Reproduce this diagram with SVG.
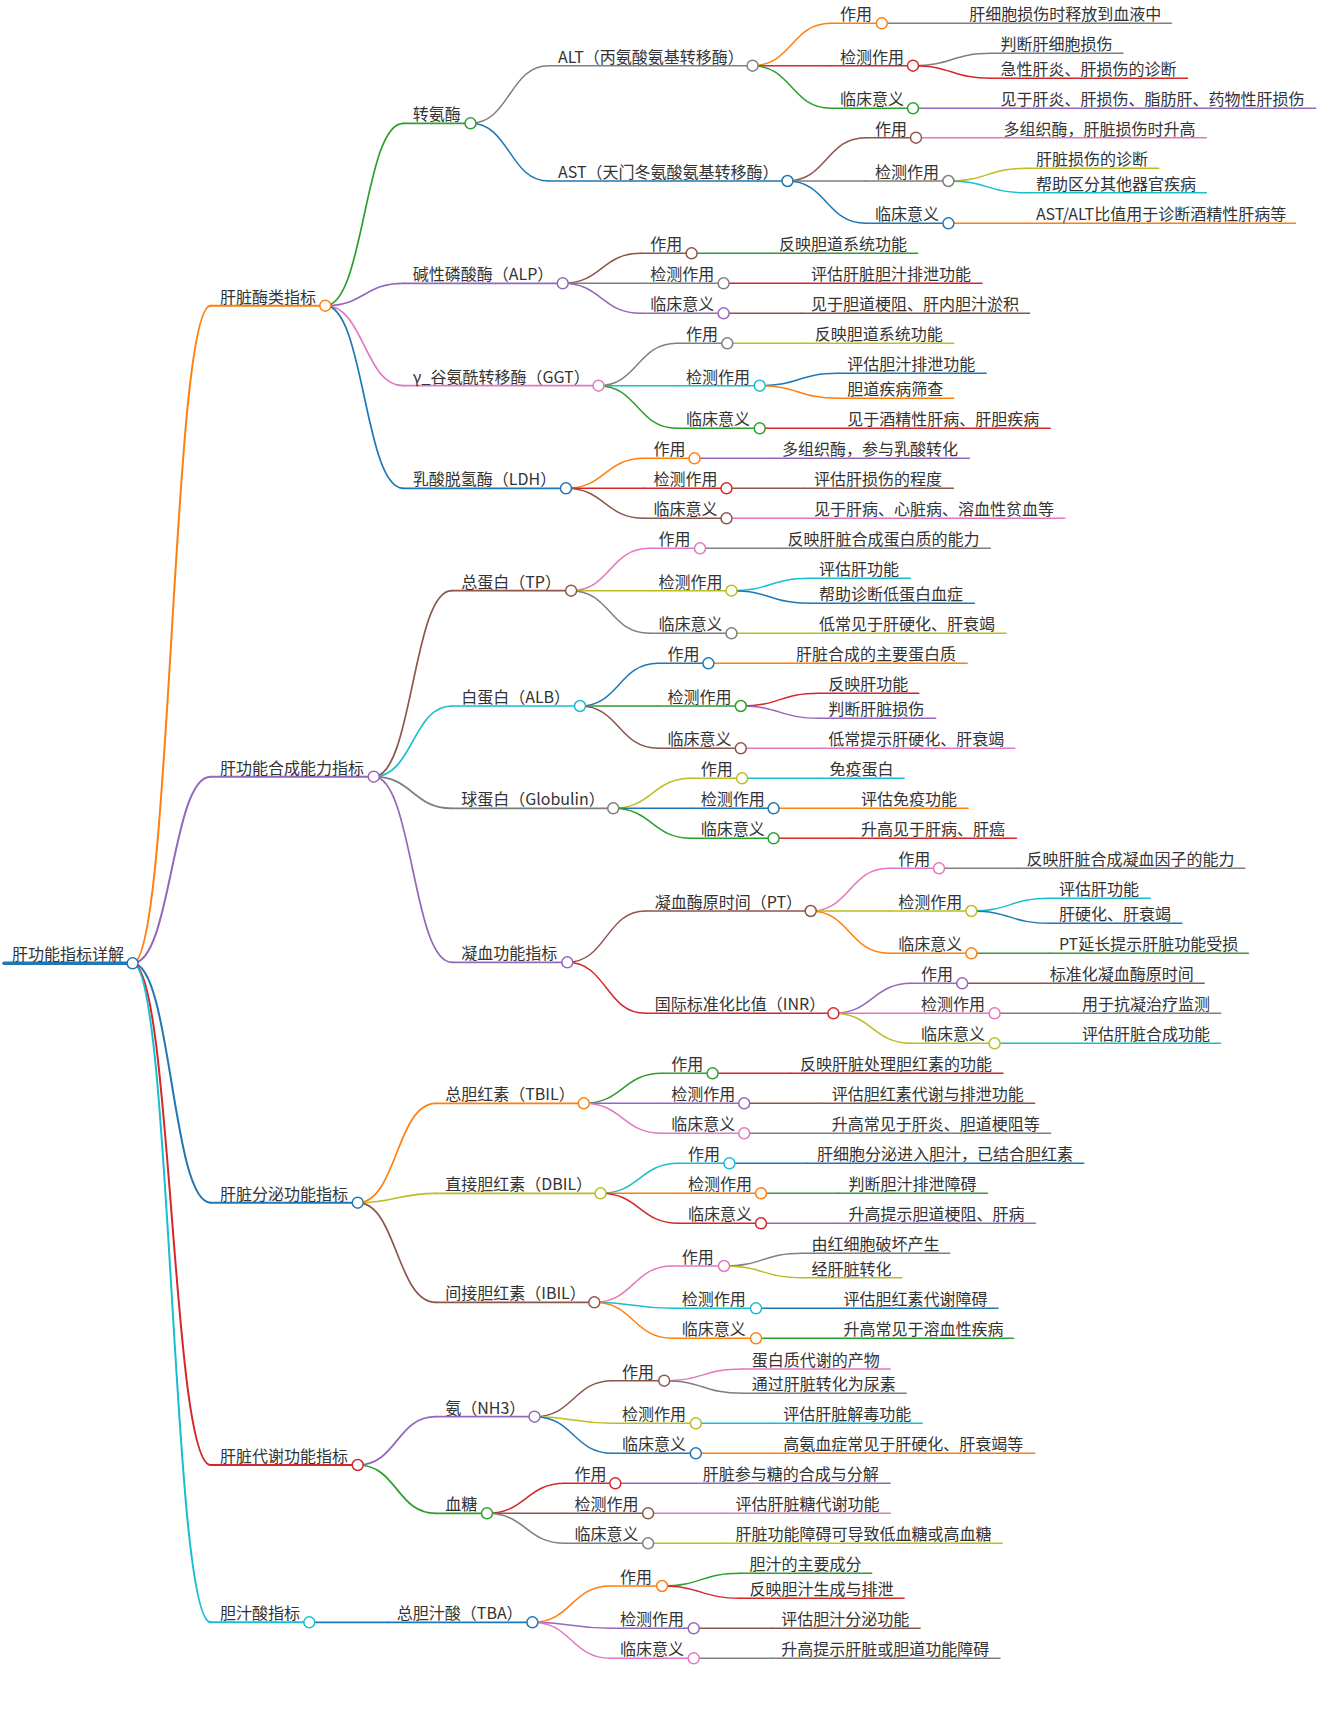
<svg xmlns="http://www.w3.org/2000/svg" width="1321" height="1713" viewBox="0 0 1321 1713">
<style>
path{fill:none;stroke-linecap:round}
circle{fill:#fff;stroke-width:1.5}
text{font-family:"Noto Sans CJK SC","Noto Sans",sans-serif;font-size:16px;fill:#333}
.w0{stroke-width:3.5}.w1{stroke-width:2}.w2{stroke-width:1.7}.w3{stroke-width:1.5}
.bl{stroke:#1f77b4}.or{stroke:#ff7f0e}.gr{stroke:#2ca02c}.rd{stroke:#d62728}.pu{stroke:#9467bd}
.br{stroke:#8c564b}.pk{stroke:#e377c2}.gy{stroke:#7f7f7f}.ol{stroke:#bcbd22}.cy{stroke:#17becf}
</style>
<rect width="1321" height="1713" fill="#fff"/>
<g id="connectors">
<path class="or w1" d="M132.6 963.3C171.6 963.3 171.6 305.7 210.6 305.7"/>
<path class="pu w1" d="M132.6 963.3C171.6 963.3 171.6 776.7 210.6 776.7"/>
<path class="bl w1" d="M132.6 963.3C171.6 963.3 171.6 1202.7 210.6 1202.7"/>
<path class="rd w1" d="M132.6 963.3C171.6 963.3 171.6 1465 210.6 1465"/>
<path class="cy w1" d="M132.6 963.3C171.6 963.3 171.6 1622.3 210.6 1622.3"/>
<path class="gr w2" d="M325.3 305.7C364.3 305.7 364.3 123.3 403.3 123.3"/>
<path class="pu w2" d="M325.3 305.7C364.3 305.7 364.3 283.3 403.3 283.3"/>
<path class="pk w2" d="M325.3 305.7C364.3 305.7 364.3 385.7 403.3 385.7"/>
<path class="bl w2" d="M325.3 305.7C364.3 305.7 364.3 488.3 403.3 488.3"/>
<path class="gy w3" d="M470.5 123.3C509.5 123.3 509.5 65.7 548.5 65.7"/>
<path class="bl w3" d="M470.5 123.3C509.5 123.3 509.5 181 548.5 181"/>
<path class="or w3" d="M752.6 65.7C791.6 65.7 791.6 23.3 830.6 23.3"/>
<path class="rd w3" d="M752.6 65.7C791.6 65.7 791.6 65.7 830.6 65.7"/>
<path class="gr w3" d="M752.6 65.7C791.6 65.7 791.6 108.3 830.6 108.3"/>
<path class="gy w3" d="M881.8 23.3H959.8"/>
<path class="gy w3" d="M913 65.7C952 65.7 952 53.3 991 53.3"/>
<path class="rd w3" d="M913 65.7C952 65.7 952 78.3 991 78.3"/>
<path class="pu w3" d="M913 108.3H991"/>
<path class="br w3" d="M787.5 181C826.5 181 826.5 137.7 865.5 137.7"/>
<path class="gy w3" d="M787.5 181H865.5"/>
<path class="bl w3" d="M787.5 181C826.5 181 826.5 223.3 865.5 223.3"/>
<path class="pk w3" d="M916 137.7H994"/>
<path class="ol w3" d="M948.4 181C987.4 181 987.4 168.3 1026.4 168.3"/>
<path class="cy w3" d="M948.4 181C987.4 181 987.4 192.7 1026.4 192.7"/>
<path class="or w3" d="M948.4 223.3H1026.4"/>
<path class="br w3" d="M562.7 283.3C601.7 283.3 601.7 253.3 640.7 253.3"/>
<path class="gy w3" d="M562.7 283.3H640.7"/>
<path class="pu w3" d="M562.7 283.3C601.7 283.3 601.7 313.3 640.7 313.3"/>
<path class="gr w3" d="M691.6 253.3H769.6"/>
<path class="rd w3" d="M723.6 283.3H801.6"/>
<path class="br w3" d="M723.6 313.3H801.6"/>
<path class="gy w3" d="M598.5 385.7C637.5 385.7 637.5 343.3 676.5 343.3"/>
<path class="cy w3" d="M598.5 385.7H676.5"/>
<path class="gr w3" d="M598.5 385.7C637.5 385.7 637.5 428.3 676.5 428.3"/>
<path class="ol w3" d="M727.3 343.3H805.3"/>
<path class="bl w3" d="M759.7 385.7C798.7 385.7 798.7 373.3 837.7 373.3"/>
<path class="or w3" d="M759.7 385.7C798.7 385.7 798.7 398.3 837.7 398.3"/>
<path class="rd w3" d="M759.7 428.3H837.7"/>
<path class="or w3" d="M566 488.3C605 488.3 605 458.3 644 458.3"/>
<path class="rd w3" d="M566 488.3H644"/>
<path class="br w3" d="M566 488.3C605 488.3 605 518.3 644 518.3"/>
<path class="pu w3" d="M694.5 458.3H772.5"/>
<path class="br w3" d="M726.5 488.3H804.5"/>
<path class="pk w3" d="M726.5 518.3H804.5"/>
<path class="br w2" d="M373.7 776.7C412.7 776.7 412.7 590.7 451.7 590.7"/>
<path class="cy w2" d="M373.7 776.7C412.7 776.7 412.7 706 451.7 706"/>
<path class="gy w2" d="M373.7 776.7C412.7 776.7 412.7 808.3 451.7 808.3"/>
<path class="pu w2" d="M373.7 776.7C412.7 776.7 412.7 962.3 451.7 962.3"/>
<path class="pk w3" d="M571.1 590.7C610.1 590.7 610.1 548.3 649.1 548.3"/>
<path class="ol w3" d="M571.1 590.7H649.1"/>
<path class="gy w3" d="M571.1 590.7C610.1 590.7 610.1 633.3 649.1 633.3"/>
<path class="gy w3" d="M700 548.3H778"/>
<path class="cy w3" d="M731.5 590.7C770.5 590.7 770.5 578.3 809.5 578.3"/>
<path class="bl w3" d="M731.5 590.7C770.5 590.7 770.5 603.3 809.5 603.3"/>
<path class="ol w3" d="M731.5 633.3H809.5"/>
<path class="bl w3" d="M580 706C619 706 619 663.3 658 663.3"/>
<path class="gr w3" d="M580 706H658"/>
<path class="br w3" d="M580 706C619 706 619 748.3 658 748.3"/>
<path class="or w3" d="M708.4 663.3H786.4"/>
<path class="rd w3" d="M740.8 706C779.8 706 779.8 693.3 818.8 693.3"/>
<path class="pu w3" d="M740.8 706C779.8 706 779.8 718.3 818.8 718.3"/>
<path class="pk w3" d="M740.8 748.3H818.8"/>
<path class="ol w3" d="M613.2 808.3C652.2 808.3 652.2 778.3 691.2 778.3"/>
<path class="bl w3" d="M613.2 808.3H691.2"/>
<path class="gr w3" d="M613.2 808.3C652.2 808.3 652.2 838.3 691.2 838.3"/>
<path class="cy w3" d="M742.1 778.3H820.1"/>
<path class="or w3" d="M773.6 808.3H851.6"/>
<path class="rd w3" d="M773.6 838.3H851.6"/>
<path class="br w3" d="M567.3 962.3C606.3 962.3 606.3 911 645.3 911"/>
<path class="rd w3" d="M567.3 962.3C606.3 962.3 606.3 1013.3 645.3 1013.3"/>
<path class="pk w3" d="M810.7 911C849.7 911 849.7 868.3 888.7 868.3"/>
<path class="ol w3" d="M810.7 911H888.7"/>
<path class="or w3" d="M810.7 911C849.7 911 849.7 953.3 888.7 953.3"/>
<path class="gy w3" d="M939 868.3H1017"/>
<path class="cy w3" d="M971.4 911C1010.4 911 1010.4 898.3 1049.4 898.3"/>
<path class="bl w3" d="M971.4 911C1010.4 911 1010.4 923.3 1049.4 923.3"/>
<path class="gr w3" d="M971.4 953.3H1049.4"/>
<path class="pu w3" d="M833.4 1013.3C872.4 1013.3 872.4 983.3 911.4 983.3"/>
<path class="pk w3" d="M833.4 1013.3H911.4"/>
<path class="ol w3" d="M833.4 1013.3C872.4 1013.3 872.4 1043.3 911.4 1043.3"/>
<path class="br w3" d="M962.2 983.3H1040.2"/>
<path class="gy w3" d="M994.6 1013.3H1072.6"/>
<path class="cy w3" d="M994.6 1043.3H1072.6"/>
<path class="or w2" d="M357.7 1202.7C396.7 1202.7 396.7 1103.3 435.7 1103.3"/>
<path class="ol w2" d="M357.7 1202.7C396.7 1202.7 396.7 1193.3 435.7 1193.3"/>
<path class="br w2" d="M357.7 1202.7C396.7 1202.7 396.7 1302.3 435.7 1302.3"/>
<path class="gr w3" d="M583.8 1103.3C622.8 1103.3 622.8 1073.3 661.8 1073.3"/>
<path class="pu w3" d="M583.8 1103.3H661.8"/>
<path class="pk w3" d="M583.8 1103.3C622.8 1103.3 622.8 1133.3 661.8 1133.3"/>
<path class="rd w3" d="M712.6 1073.3H790.6"/>
<path class="br w3" d="M744.2 1103.3H822.2"/>
<path class="gy w3" d="M744.2 1133.3H822.2"/>
<path class="cy w3" d="M600.6 1193.3C639.6 1193.3 639.6 1163.3 678.6 1163.3"/>
<path class="or w3" d="M600.6 1193.3H678.6"/>
<path class="rd w3" d="M600.6 1193.3C639.6 1193.3 639.6 1223.3 678.6 1223.3"/>
<path class="bl w3" d="M729.4 1163.3H807.4"/>
<path class="gr w3" d="M761 1193.3H839"/>
<path class="pu w3" d="M761 1223.3H839"/>
<path class="pk w3" d="M594.3 1302.3C633.3 1302.3 633.3 1266 672.3 1266"/>
<path class="cy w3" d="M594.3 1302.3C633.3 1302.3 633.3 1308.3 672.3 1308.3"/>
<path class="or w3" d="M594.3 1302.3C633.3 1302.3 633.3 1338.3 672.3 1338.3"/>
<path class="gy w3" d="M724 1266C763 1266 763 1253.3 802 1253.3"/>
<path class="ol w3" d="M724 1266C763 1266 763 1277.7 802 1277.7"/>
<path class="bl w3" d="M756 1308.3H834"/>
<path class="gr w3" d="M756 1338.3H834"/>
<path class="pu w2" d="M357.7 1465C396.7 1465 396.7 1416.7 435.7 1416.7"/>
<path class="gr w2" d="M357.7 1465C396.7 1465 396.7 1513.3 435.7 1513.3"/>
<path class="br w3" d="M534.5 1416.7C573.5 1416.7 573.5 1380.7 612.5 1380.7"/>
<path class="ol w3" d="M534.5 1416.7C573.5 1416.7 573.5 1423.3 612.5 1423.3"/>
<path class="bl w3" d="M534.5 1416.7C573.5 1416.7 573.5 1453.3 612.5 1453.3"/>
<path class="pk w3" d="M664.2 1380.7C703.2 1380.7 703.2 1369 742.2 1369"/>
<path class="gy w3" d="M664.2 1380.7C703.2 1380.7 703.2 1393.3 742.2 1393.3"/>
<path class="cy w3" d="M695.8 1423.3H773.8"/>
<path class="or w3" d="M695.8 1453.3H773.8"/>
<path class="rd w3" d="M487 1513.3C526 1513.3 526 1483.3 565 1483.3"/>
<path class="br w3" d="M487 1513.3H565"/>
<path class="gy w3" d="M487 1513.3C526 1513.3 526 1543.3 565 1543.3"/>
<path class="pu w3" d="M615.3 1483.3H693.3"/>
<path class="pk w3" d="M648.1 1513.3H726.1"/>
<path class="ol w3" d="M648.1 1543.3H726.1"/>
<path class="bl w2" d="M309.3 1622.3H387.3"/>
<path class="or w3" d="M532.4 1622.3C571.4 1622.3 571.4 1586 610.4 1586"/>
<path class="pu w3" d="M532.4 1622.3C571.4 1622.3 571.4 1628.3 610.4 1628.3"/>
<path class="pk w3" d="M532.4 1622.3C571.4 1622.3 571.4 1658.3 610.4 1658.3"/>
<path class="gr w3" d="M662.1 1586C701.1 1586 701.1 1573.3 740.1 1573.3"/>
<path class="rd w3" d="M662.1 1586C701.1 1586 701.1 1598.3 740.1 1598.3"/>
<path class="br w3" d="M693.7 1628.3H771.7"/>
<path class="gy w3" d="M693.7 1658.3H771.7"/>
</g>
<g id="n-root"><path class="bl w0" d="M4 963.3H132.6"/><circle class="bl" cx="132.6" cy="963.3" r="5.5"/><text x="12" y="960.3">肝功能指标详解</text></g>
<g id="n-A"><path class="or w1" d="M210.6 305.7H325.3"/><circle class="or" cx="325.3" cy="305.7" r="5.5"/><text x="220" y="302.7">肝脏酶类指标</text></g>
<g id="n-A1"><path class="gr w2" d="M403.3 123.3H470.5"/><circle class="gr" cx="470.5" cy="123.3" r="5.5"/><text x="412.8" y="120.3">转氨酶</text></g>
<g id="n-A1a"><path class="gy w3" d="M548.5 65.7H752.6"/><circle class="gy" cx="752.6" cy="65.7" r="5.5"/><text x="558" y="62.7">ALT（丙氨酸氨基转移酶）</text></g>
<g id="n-A1a1"><path class="or w3" d="M830.6 23.3H881.8"/><circle class="or" cx="881.8" cy="23.3" r="5.5"/><text x="840.1" y="20.3">作用</text></g>
<g id="n-A1a1a"><path class="gy w3" d="M959.8 23.3H1171.4"/><text x="969.3" y="20.3">肝细胞损伤时释放到血液中</text></g>
<g id="n-A1a2"><path class="rd w3" d="M830.6 65.7H913"/><circle class="rd" cx="913" cy="65.7" r="5.5"/><text x="840.1" y="62.7">检测作用</text></g>
<g id="n-A1a2a"><path class="gy w3" d="M991 53.3H1123"/><text x="1000.5" y="50.3">判断肝细胞损伤</text></g>
<g id="n-A1a2b"><path class="rd w3" d="M991 78.3H1187.4"/><text x="1000.5" y="75.3">急性肝炎、肝损伤的诊断</text></g>
<g id="n-A1a3"><path class="gr w3" d="M830.6 108.3H913"/><circle class="gr" cx="913" cy="108.3" r="5.5"/><text x="840.1" y="105.3">临床意义</text></g>
<g id="n-A1a3a"><path class="pu w3" d="M991 108.3H1315.7"/><text x="1000.5" y="105.3">见于肝炎、肝损伤、脂肪肝、药物性肝损伤</text></g>
<g id="n-A1b"><path class="bl w3" d="M548.5 181H787.5"/><circle class="bl" cx="787.5" cy="181" r="5.5"/><text x="558" y="178">AST（天门冬氨酸氨基转移酶）</text></g>
<g id="n-A1b1"><path class="br w3" d="M865.5 137.7H916"/><circle class="br" cx="916" cy="137.7" r="5.5"/><text x="875" y="134.7">作用</text></g>
<g id="n-A1b1a"><path class="pk w3" d="M994 137.7H1206.3"/><text x="1003.5" y="134.7">多组织酶，肝脏损伤时升高</text></g>
<g id="n-A1b2"><path class="gy w3" d="M865.5 181H948.4"/><circle class="gy" cx="948.4" cy="181" r="5.5"/><text x="875" y="178">检测作用</text></g>
<g id="n-A1b2a"><path class="ol w3" d="M1026.4 168.3H1158.7"/><text x="1035.9" y="165.3">肝脏损伤的诊断</text></g>
<g id="n-A1b2b"><path class="cy w3" d="M1026.4 192.7H1206.3"/><text x="1035.9" y="189.7">帮助区分其他器官疾病</text></g>
<g id="n-A1b3"><path class="bl w3" d="M865.5 223.3H948.4"/><circle class="bl" cx="948.4" cy="223.3" r="5.5"/><text x="875" y="220.3">临床意义</text></g>
<g id="n-A1b3a"><path class="or w3" d="M1026.4 223.3H1295.5"/><text x="1035.9" y="220.3">AST/ALT比值用于诊断酒精性肝病等</text></g>
<g id="n-A2"><path class="pu w2" d="M403.3 283.3H562.7"/><circle class="pu" cx="562.7" cy="283.3" r="5.5"/><text x="412.8" y="280.3">碱性磷酸酶（ALP）</text></g>
<g id="n-A21"><path class="br w3" d="M640.7 253.3H691.6"/><circle class="br" cx="691.6" cy="253.3" r="5.5"/><text x="650.2" y="250.3">作用</text></g>
<g id="n-A21a"><path class="gr w3" d="M769.6 253.3H917.6"/><text x="779.1" y="250.3">反映胆道系统功能</text></g>
<g id="n-A22"><path class="gy w3" d="M640.7 283.3H723.6"/><circle class="gy" cx="723.6" cy="283.3" r="5.5"/><text x="650.2" y="280.3">检测作用</text></g>
<g id="n-A22a"><path class="rd w3" d="M801.6 283.3H982"/><text x="811.1" y="280.3">评估肝脏胆汁排泄功能</text></g>
<g id="n-A23"><path class="pu w3" d="M640.7 313.3H723.6"/><circle class="pu" cx="723.6" cy="313.3" r="5.5"/><text x="650.2" y="310.3">临床意义</text></g>
<g id="n-A23a"><path class="br w3" d="M801.6 313.3H1029.5"/><text x="811.1" y="310.3">见于胆道梗阻、肝内胆汁淤积</text></g>
<g id="n-A3"><path class="pk w2" d="M403.3 385.7H598.5"/><circle class="pk" cx="598.5" cy="385.7" r="5.5"/><text x="412.8" y="382.7">γ_谷氨酰转移酶（GGT）</text></g>
<g id="n-A31"><path class="gy w3" d="M676.5 343.3H727.3"/><circle class="gy" cx="727.3" cy="343.3" r="5.5"/><text x="686" y="340.3">作用</text></g>
<g id="n-A31a"><path class="ol w3" d="M805.3 343.3H953.8"/><text x="814.8" y="340.3">反映胆道系统功能</text></g>
<g id="n-A32"><path class="cy w3" d="M676.5 385.7H759.7"/><circle class="cy" cx="759.7" cy="385.7" r="5.5"/><text x="686" y="382.7">检测作用</text></g>
<g id="n-A32a"><path class="bl w3" d="M837.7 373.3H986.2"/><text x="847.2" y="370.3">评估胆汁排泄功能</text></g>
<g id="n-A32b"><path class="or w3" d="M837.7 398.3H953.8"/><text x="847.2" y="395.3">胆道疾病筛查</text></g>
<g id="n-A33"><path class="gr w3" d="M676.5 428.3H759.7"/><circle class="gr" cx="759.7" cy="428.3" r="5.5"/><text x="686" y="425.3">临床意义</text></g>
<g id="n-A33a"><path class="rd w3" d="M837.7 428.3H1050.2"/><text x="847.2" y="425.3">见于酒精性肝病、肝胆疾病</text></g>
<g id="n-A4"><path class="bl w2" d="M403.3 488.3H566"/><circle class="bl" cx="566" cy="488.3" r="5.5"/><text x="412.8" y="485.3">乳酸脱氢酶（LDH）</text></g>
<g id="n-A41"><path class="or w3" d="M644 458.3H694.5"/><circle class="or" cx="694.5" cy="458.3" r="5.5"/><text x="653.5" y="455.3">作用</text></g>
<g id="n-A41a"><path class="pu w3" d="M772.5 458.3H969.3"/><text x="782" y="455.3">多组织酶，参与乳酸转化</text></g>
<g id="n-A42"><path class="rd w3" d="M644 488.3H726.5"/><circle class="rd" cx="726.5" cy="488.3" r="5.5"/><text x="653.5" y="485.3">检测作用</text></g>
<g id="n-A42a"><path class="br w3" d="M804.5 488.3H953.3"/><text x="814" y="485.3">评估肝损伤的程度</text></g>
<g id="n-A43"><path class="br w3" d="M644 518.3H726.5"/><circle class="br" cx="726.5" cy="518.3" r="5.5"/><text x="653.5" y="515.3">临床意义</text></g>
<g id="n-A43a"><path class="pk w3" d="M804.5 518.3H1064.9"/><text x="814" y="515.3">见于肝病、心脏病、溶血性贫血等</text></g>
<g id="n-B"><path class="pu w1" d="M210.6 776.7H373.7"/><circle class="pu" cx="373.7" cy="776.7" r="5.5"/><text x="220" y="773.7">肝功能合成能力指标</text></g>
<g id="n-B1"><path class="br w2" d="M451.7 590.7H571.1"/><circle class="br" cx="571.1" cy="590.7" r="5.5"/><text x="461.2" y="587.7">总蛋白（TP）</text></g>
<g id="n-B11"><path class="pk w3" d="M649.1 548.3H700"/><circle class="pk" cx="700" cy="548.3" r="5.5"/><text x="658.6" y="545.3">作用</text></g>
<g id="n-B11a"><path class="gy w3" d="M778 548.3H990.4"/><text x="787.5" y="545.3">反映肝脏合成蛋白质的能力</text></g>
<g id="n-B12"><path class="ol w3" d="M649.1 590.7H731.5"/><circle class="ol" cx="731.5" cy="590.7" r="5.5"/><text x="658.6" y="587.7">检测作用</text></g>
<g id="n-B12a"><path class="cy w3" d="M809.5 578.3H910.4"/><text x="819" y="575.3">评估肝功能</text></g>
<g id="n-B12b"><path class="bl w3" d="M809.5 603.3H974.4"/><text x="819" y="600.3">帮助诊断低蛋白血症</text></g>
<g id="n-B13"><path class="gy w3" d="M649.1 633.3H731.5"/><circle class="gy" cx="731.5" cy="633.3" r="5.5"/><text x="658.6" y="630.3">临床意义</text></g>
<g id="n-B13a"><path class="ol w3" d="M809.5 633.3H1006"/><text x="819" y="630.3">低常见于肝硬化、肝衰竭</text></g>
<g id="n-B2"><path class="cy w2" d="M451.7 706H580"/><circle class="cy" cx="580" cy="706" r="5.5"/><text x="461.2" y="703">白蛋白（ALB）</text></g>
<g id="n-B21"><path class="bl w3" d="M658 663.3H708.4"/><circle class="bl" cx="708.4" cy="663.3" r="5.5"/><text x="667.5" y="660.3">作用</text></g>
<g id="n-B21a"><path class="or w3" d="M786.4 663.3H967.2"/><text x="795.9" y="660.3">肝脏合成的主要蛋白质</text></g>
<g id="n-B22"><path class="gr w3" d="M658 706H740.8"/><circle class="gr" cx="740.8" cy="706" r="5.5"/><text x="667.5" y="703">检测作用</text></g>
<g id="n-B22a"><path class="rd w3" d="M818.8 693.3H918.8"/><text x="828.3" y="690.3">反映肝功能</text></g>
<g id="n-B22b"><path class="pu w3" d="M818.8 718.3H935.7"/><text x="828.3" y="715.3">判断肝脏损伤</text></g>
<g id="n-B23"><path class="br w3" d="M658 748.3H740.8"/><circle class="br" cx="740.8" cy="748.3" r="5.5"/><text x="667.5" y="745.3">临床意义</text></g>
<g id="n-B23a"><path class="pk w3" d="M818.8 748.3H1014.8"/><text x="828.3" y="745.3">低常提示肝硬化、肝衰竭</text></g>
<g id="n-B3"><path class="gy w2" d="M451.7 808.3H613.2"/><circle class="gy" cx="613.2" cy="808.3" r="5.5"/><text x="461.2" y="805.3">球蛋白（Globulin）</text></g>
<g id="n-B31"><path class="ol w3" d="M691.2 778.3H742.1"/><circle class="ol" cx="742.1" cy="778.3" r="5.5"/><text x="700.7" y="775.3">作用</text></g>
<g id="n-B31a"><path class="cy w3" d="M820.1 778.3H904.1"/><text x="829.6" y="775.3">免疫蛋白</text></g>
<g id="n-B32"><path class="bl w3" d="M691.2 808.3H773.6"/><circle class="bl" cx="773.6" cy="808.3" r="5.5"/><text x="700.7" y="805.3">检测作用</text></g>
<g id="n-B32a"><path class="or w3" d="M851.6 808.3H968.1"/><text x="861.1" y="805.3">评估免疫功能</text></g>
<g id="n-B33"><path class="gr w3" d="M691.2 838.3H773.6"/><circle class="gr" cx="773.6" cy="838.3" r="5.5"/><text x="700.7" y="835.3">临床意义</text></g>
<g id="n-B33a"><path class="rd w3" d="M851.6 838.3H1016.5"/><text x="861.1" y="835.3">升高见于肝病、肝癌</text></g>
<g id="n-B4"><path class="pu w2" d="M451.7 962.3H567.3"/><circle class="pu" cx="567.3" cy="962.3" r="5.5"/><text x="461.2" y="959.3">凝血功能指标</text></g>
<g id="n-B4a"><path class="br w3" d="M645.3 911H810.7"/><circle class="br" cx="810.7" cy="911" r="5.5"/><text x="654.8" y="908">凝血酶原时间（PT）</text></g>
<g id="n-B4a1"><path class="pk w3" d="M888.7 868.3H939"/><circle class="pk" cx="939" cy="868.3" r="5.5"/><text x="898.2" y="865.3">作用</text></g>
<g id="n-B4a1a"><path class="gy w3" d="M1017 868.3H1245"/><text x="1026.5" y="865.3">反映肝脏合成凝血因子的能力</text></g>
<g id="n-B4a2"><path class="ol w3" d="M888.7 911H971.4"/><circle class="ol" cx="971.4" cy="911" r="5.5"/><text x="898.2" y="908">检测作用</text></g>
<g id="n-B4a2a"><path class="cy w3" d="M1049.4 898.3H1150.3"/><text x="1058.9" y="895.3">评估肝功能</text></g>
<g id="n-B4a2b"><path class="bl w3" d="M1049.4 923.3H1181.9"/><text x="1058.9" y="920.3">肝硬化、肝衰竭</text></g>
<g id="n-B4a3"><path class="or w3" d="M888.7 953.3H971.4"/><circle class="or" cx="971.4" cy="953.3" r="5.5"/><text x="898.2" y="950.3">临床意义</text></g>
<g id="n-B4a3a"><path class="gr w3" d="M1049.4 953.3H1248.4"/><text x="1058.9" y="950.3">PT延长提示肝脏功能受损</text></g>
<g id="n-B4b"><path class="rd w3" d="M645.3 1013.3H833.4"/><circle class="rd" cx="833.4" cy="1013.3" r="5.5"/><text x="654.8" y="1010.3">国际标准化比值（INR）</text></g>
<g id="n-B4b1"><path class="pu w3" d="M911.4 983.3H962.2"/><circle class="pu" cx="962.2" cy="983.3" r="5.5"/><text x="920.9" y="980.3">作用</text></g>
<g id="n-B4b1a"><path class="br w3" d="M1040.2 983.3H1204.2"/><text x="1049.7" y="980.3">标准化凝血酶原时间</text></g>
<g id="n-B4b2"><path class="pk w3" d="M911.4 1013.3H994.6"/><circle class="pk" cx="994.6" cy="1013.3" r="5.5"/><text x="920.9" y="1010.3">检测作用</text></g>
<g id="n-B4b2a"><path class="gy w3" d="M1072.6 1013.3H1220.6"/><text x="1082.1" y="1010.3">用于抗凝治疗监测</text></g>
<g id="n-B4b3"><path class="ol w3" d="M911.4 1043.3H994.6"/><circle class="ol" cx="994.6" cy="1043.3" r="5.5"/><text x="920.9" y="1040.3">临床意义</text></g>
<g id="n-B4b3a"><path class="cy w3" d="M1072.6 1043.3H1220.6"/><text x="1082.1" y="1040.3">评估肝脏合成功能</text></g>
<g id="n-C"><path class="bl w1" d="M210.6 1202.7H357.7"/><circle class="bl" cx="357.7" cy="1202.7" r="5.5"/><text x="220" y="1199.7">肝脏分泌功能指标</text></g>
<g id="n-C1"><path class="or w2" d="M435.7 1103.3H583.8"/><circle class="or" cx="583.8" cy="1103.3" r="5.5"/><text x="445.2" y="1100.3">总胆红素（TBIL）</text></g>
<g id="n-C11"><path class="gr w3" d="M661.8 1073.3H712.6"/><circle class="gr" cx="712.6" cy="1073.3" r="5.5"/><text x="671.3" y="1070.3">作用</text></g>
<g id="n-C11a"><path class="rd w3" d="M790.6 1073.3H1003"/><text x="800.1" y="1070.3">反映肝脏处理胆红素的功能</text></g>
<g id="n-C12"><path class="pu w3" d="M661.8 1103.3H744.2"/><circle class="pu" cx="744.2" cy="1103.3" r="5.5"/><text x="671.3" y="1100.3">检测作用</text></g>
<g id="n-C12a"><path class="br w3" d="M822.2 1103.3H1034.6"/><text x="831.7" y="1100.3">评估胆红素代谢与排泄功能</text></g>
<g id="n-C13"><path class="pk w3" d="M661.8 1133.3H744.2"/><circle class="pk" cx="744.2" cy="1133.3" r="5.5"/><text x="671.3" y="1130.3">临床意义</text></g>
<g id="n-C13a"><path class="gy w3" d="M822.2 1133.3H1050.6"/><text x="831.7" y="1130.3">升高常见于肝炎、胆道梗阻等</text></g>
<g id="n-C2"><path class="ol w2" d="M435.7 1193.3H600.6"/><circle class="ol" cx="600.6" cy="1193.3" r="5.5"/><text x="445.2" y="1190.3">直接胆红素（DBIL）</text></g>
<g id="n-C21"><path class="cy w3" d="M678.6 1163.3H729.4"/><circle class="cy" cx="729.4" cy="1163.3" r="5.5"/><text x="688.1" y="1160.3">作用</text></g>
<g id="n-C21a"><path class="bl w3" d="M807.4 1163.3H1083.8"/><text x="816.9" y="1160.3">肝细胞分泌进入胆汁，已结合胆红素</text></g>
<g id="n-C22"><path class="or w3" d="M678.6 1193.3H761"/><circle class="or" cx="761" cy="1193.3" r="5.5"/><text x="688.1" y="1190.3">检测作用</text></g>
<g id="n-C22a"><path class="gr w3" d="M839 1193.3H987.4"/><text x="848.5" y="1190.3">判断胆汁排泄障碍</text></g>
<g id="n-C23"><path class="rd w3" d="M678.6 1223.3H761"/><circle class="rd" cx="761" cy="1223.3" r="5.5"/><text x="688.1" y="1220.3">临床意义</text></g>
<g id="n-C23a"><path class="pu w3" d="M839 1223.3H1035.4"/><text x="848.5" y="1220.3">升高提示胆道梗阻、肝病</text></g>
<g id="n-C3"><path class="br w2" d="M435.7 1302.3H594.3"/><circle class="br" cx="594.3" cy="1302.3" r="5.5"/><text x="445.2" y="1299.3">间接胆红素（IBIL）</text></g>
<g id="n-C31"><path class="pk w3" d="M672.3 1266H724"/><circle class="pk" cx="724" cy="1266" r="5.5"/><text x="681.8" y="1263">作用</text></g>
<g id="n-C31a"><path class="gy w3" d="M802 1253.3H949.6"/><text x="811.5" y="1250.3">由红细胞破坏产生</text></g>
<g id="n-C31b"><path class="ol w3" d="M802 1277.7H902"/><text x="811.5" y="1274.7">经肝脏转化</text></g>
<g id="n-C32"><path class="cy w3" d="M672.3 1308.3H756"/><circle class="cy" cx="756" cy="1308.3" r="5.5"/><text x="681.8" y="1305.3">检测作用</text></g>
<g id="n-C32a"><path class="bl w3" d="M834 1308.3H998"/><text x="843.5" y="1305.3">评估胆红素代谢障碍</text></g>
<g id="n-C33"><path class="or w3" d="M672.3 1338.3H756"/><circle class="or" cx="756" cy="1338.3" r="5.5"/><text x="681.8" y="1335.3">临床意义</text></g>
<g id="n-C33a"><path class="gr w3" d="M834 1338.3H1013.5"/><text x="843.5" y="1335.3">升高常见于溶血性疾病</text></g>
<g id="n-D"><path class="rd w1" d="M210.6 1465H357.7"/><circle class="rd" cx="357.7" cy="1465" r="5.5"/><text x="220" y="1462">肝脏代谢功能指标</text></g>
<g id="n-D1"><path class="pu w2" d="M435.7 1416.7H534.5"/><circle class="pu" cx="534.5" cy="1416.7" r="5.5"/><text x="445.2" y="1413.7">氨（NH3）</text></g>
<g id="n-D11"><path class="br w3" d="M612.5 1380.7H664.2"/><circle class="br" cx="664.2" cy="1380.7" r="5.5"/><text x="622" y="1377.7">作用</text></g>
<g id="n-D11a"><path class="pk w3" d="M742.2 1369H890.2"/><text x="751.7" y="1366">蛋白质代谢的产物</text></g>
<g id="n-D11b"><path class="gy w3" d="M742.2 1393.3H906.2"/><text x="751.7" y="1390.3">通过肝脏转化为尿素</text></g>
<g id="n-D12"><path class="ol w3" d="M612.5 1423.3H695.8"/><circle class="ol" cx="695.8" cy="1423.3" r="5.5"/><text x="622" y="1420.3">检测作用</text></g>
<g id="n-D12a"><path class="cy w3" d="M773.8 1423.3H922.2"/><text x="783.3" y="1420.3">评估肝脏解毒功能</text></g>
<g id="n-D13"><path class="bl w3" d="M612.5 1453.3H695.8"/><circle class="bl" cx="695.8" cy="1453.3" r="5.5"/><text x="622" y="1450.3">临床意义</text></g>
<g id="n-D13a"><path class="or w3" d="M773.8 1453.3H1034.6"/><text x="783.3" y="1450.3">高氨血症常见于肝硬化、肝衰竭等</text></g>
<g id="n-D2"><path class="gr w2" d="M435.7 1513.3H487"/><circle class="gr" cx="487" cy="1513.3" r="5.5"/><text x="445.2" y="1510.3">血糖</text></g>
<g id="n-D21"><path class="rd w3" d="M565 1483.3H615.3"/><circle class="rd" cx="615.3" cy="1483.3" r="5.5"/><text x="574.5" y="1480.3">作用</text></g>
<g id="n-D21a"><path class="pu w3" d="M693.3 1483.3H890.2"/><text x="702.8" y="1480.3">肝脏参与糖的合成与分解</text></g>
<g id="n-D22"><path class="br w3" d="M565 1513.3H648.1"/><circle class="br" cx="648.1" cy="1513.3" r="5.5"/><text x="574.5" y="1510.3">检测作用</text></g>
<g id="n-D22a"><path class="pk w3" d="M726.1 1513.3H890.2"/><text x="735.6" y="1510.3">评估肝脏糖代谢功能</text></g>
<g id="n-D23"><path class="gy w3" d="M565 1543.3H648.1"/><circle class="gy" cx="648.1" cy="1543.3" r="5.5"/><text x="574.5" y="1540.3">临床意义</text></g>
<g id="n-D23a"><path class="ol w3" d="M726.1 1543.3H1002.2"/><text x="735.6" y="1540.3">肝脏功能障碍可导致低血糖或高血糖</text></g>
<g id="n-E"><path class="cy w1" d="M210.6 1622.3H309.3"/><circle class="cy" cx="309.3" cy="1622.3" r="5.5"/><text x="220" y="1619.3">胆汁酸指标</text></g>
<g id="n-E1"><path class="bl w2" d="M387.3 1622.3H532.4"/><circle class="bl" cx="532.4" cy="1622.3" r="5.5"/><text x="396.8" y="1619.3">总胆汁酸（TBA）</text></g>
<g id="n-E11"><path class="or w3" d="M610.4 1586H662.1"/><circle class="or" cx="662.1" cy="1586" r="5.5"/><text x="619.9" y="1583">作用</text></g>
<g id="n-E11a"><path class="gr w3" d="M740.1 1573.3H871.7"/><text x="749.6" y="1570.3">胆汁的主要成分</text></g>
<g id="n-E11b"><path class="rd w3" d="M740.1 1598.3H904.1"/><text x="749.6" y="1595.3">反映胆汁生成与排泄</text></g>
<g id="n-E12"><path class="pu w3" d="M610.4 1628.3H693.7"/><circle class="pu" cx="693.7" cy="1628.3" r="5.5"/><text x="619.9" y="1625.3">检测作用</text></g>
<g id="n-E12a"><path class="br w3" d="M771.7 1628.3H920.1"/><text x="781.2" y="1625.3">评估胆汁分泌功能</text></g>
<g id="n-E13"><path class="pk w3" d="M610.4 1658.3H693.7"/><circle class="pk" cx="693.7" cy="1658.3" r="5.5"/><text x="619.9" y="1655.3">临床意义</text></g>
<g id="n-E13a"><path class="gy w3" d="M771.7 1658.3H1000"/><text x="781.2" y="1655.3">升高提示肝脏或胆道功能障碍</text></g>
</svg>
